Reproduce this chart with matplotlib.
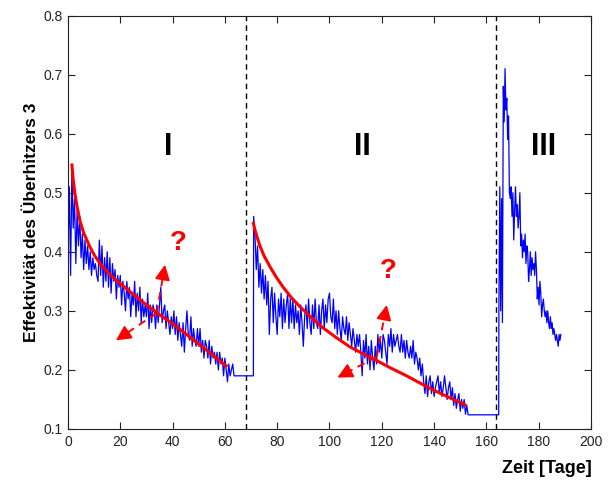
import numpy as np
import matplotlib
matplotlib.use("Agg")
import matplotlib.pyplot as plt

plt.rcParams['font.family'] = ['Liberation Sans', 'DejaVu Sans']

# ---------------- data ----------------
# measured effectiveness, phase I (start day 0, step 0.5 d)
phase1_start, phase1_step = 0.0, 0.5
eff_phase1 = [
    0.40, 0.51, 0.36, 0.54, 0.44, 0.49, 0.38, 0.47, 0.41, 0.46,
    0.39, 0.43, 0.37, 0.42, 0.38, 0.41, 0.37, 0.40, 0.36, 0.39,
    0.37, 0.38, 0.36, 0.35, 0.42, 0.36, 0.41, 0.34, 0.39, 0.35,
    0.40, 0.34, 0.39, 0.33, 0.38, 0.35, 0.37, 0.32, 0.36, 0.34,
    0.36, 0.31, 0.35, 0.33, 0.30, 0.35, 0.32, 0.34, 0.29, 0.33,
    0.31, 0.35, 0.29, 0.33, 0.30, 0.34, 0.28, 0.32, 0.29, 0.31,
    0.29, 0.33, 0.27, 0.31, 0.28, 0.31, 0.30, 0.27, 0.31, 0.28,
    0.31, 0.34, 0.28, 0.30, 0.31, 0.27, 0.30, 0.28, 0.26, 0.29,
    0.27, 0.30, 0.26, 0.29, 0.25, 0.28, 0.26, 0.24, 0.28, 0.23,
    0.27, 0.30, 0.26, 0.25, 0.29, 0.24, 0.27, 0.25, 0.24, 0.27,
    0.24, 0.27, 0.23, 0.25, 0.22, 0.25, 0.24, 0.22, 0.25, 0.21,
    0.24, 0.22, 0.23, 0.21, 0.23, 0.20, 0.23, 0.21, 0.22, 0.19,
    0.22, 0.20, 0.18, 0.21, 0.19, 0.20, 0.21, 0.19,
]
# phase II (start day 71, step 0.5 d)
phase2_start, phase2_step = 71.0, 0.5
eff_phase2 = [
    0.46, 0.43, 0.37, 0.41, 0.34, 0.38, 0.33, 0.37, 0.32, 0.36,
    0.31, 0.35, 0.26, 0.32, 0.34, 0.28, 0.33, 0.29, 0.26, 0.32,
    0.29, 0.33, 0.27, 0.32, 0.28, 0.31, 0.33, 0.27, 0.32, 0.28,
    0.32, 0.27, 0.31, 0.28, 0.30, 0.26, 0.31, 0.28, 0.24, 0.29,
    0.31, 0.27, 0.32, 0.28, 0.26, 0.31, 0.27, 0.32, 0.28, 0.27,
    0.31, 0.26, 0.30, 0.32, 0.27, 0.31, 0.28, 0.32, 0.33, 0.29,
    0.28, 0.32, 0.27, 0.30, 0.26, 0.30, 0.27, 0.25, 0.29, 0.27,
    0.26, 0.29, 0.25, 0.28, 0.26, 0.24, 0.27, 0.25, 0.23, 0.26,
    0.24, 0.26, 0.23, 0.19, 0.25, 0.22, 0.26, 0.21, 0.24, 0.20,
    0.25, 0.22, 0.20, 0.24, 0.21, 0.26, 0.23, 0.25, 0.22, 0.26,
    0.25, 0.23, 0.21, 0.26, 0.24, 0.27, 0.23, 0.26, 0.24, 0.25,
    0.26, 0.24, 0.23, 0.26, 0.23, 0.25, 0.22, 0.25, 0.23, 0.22,
    0.24, 0.22, 0.25, 0.21, 0.23, 0.22, 0.20, 0.22, 0.19, 0.21,
    0.18, 0.16, 0.19, 0.155, 0.18, 0.19, 0.16, 0.18, 0.155, 0.17,
    0.18, 0.19, 0.16, 0.18, 0.155, 0.17, 0.19, 0.17, 0.15, 0.17,
    0.18, 0.15, 0.17, 0.14, 0.16, 0.135, 0.15, 0.16, 0.13, 0.15,
    0.135, 0.15, 0.125, 0.14,
]
# phase III (start day 164.8, step 1/3 d)
phase3_start, phase3_step = 164.8, 1.0 / 3.0
eff_phase3 = [
    0.32, 0.51, 0.30, 0.49, 0.28, 0.68, 0.62, 0.71, 0.64, 0.66,
    0.59, 0.63, 0.50, 0.49, 0.51, 0.46, 0.50, 0.42, 0.47, 0.51,
    0.46, 0.48, 0.44, 0.46, 0.50, 0.41, 0.43, 0.39, 0.42, 0.40,
    0.43, 0.38, 0.41, 0.40, 0.35, 0.37, 0.40, 0.36, 0.39, 0.37,
    0.38, 0.36, 0.40, 0.37, 0.32, 0.34, 0.31, 0.35, 0.33, 0.29,
    0.31, 0.32, 0.30, 0.29, 0.30, 0.28, 0.30, 0.28, 0.27, 0.29,
    0.27, 0.28, 0.26, 0.27, 0.26, 0.25, 0.26, 0.25, 0.24, 0.26,
    0.25, 0.26,
]
# idle periods (constant value between phases)
idle_start = [64.0, 153.0]
idle_end = [70.9, 164.7]
idle_level = [0.19, 0.124]

# fitted degradation curves
fit1_days = [1.5, 2.0, 2.7, 3.5, 4.6, 6.0, 8.3, 10.0, 12.1, 15.0, 18.4, 22.0,
             25.0, 28.0, 31.0, 35.4, 38.5, 41.6, 44.8, 47.9, 51.0, 54.3, 57.3, 60.5]
fit1_vals = [0.547, 0.522, 0.497, 0.476, 0.452, 0.432, 0.409, 0.395, 0.381, 0.366,
             0.352, 0.339, 0.328, 0.317, 0.307, 0.292, 0.283, 0.273, 0.262, 0.251,
             0.240, 0.229, 0.218, 0.207]
fit2_days = [70.9, 71.5, 72.3, 73.4, 75.0, 77.2, 79.5, 82.3, 85.5, 88.7, 93.0,
             97.6, 102.5, 107.8, 113.0, 118.0, 123.5, 129.5, 134.5, 139.7, 145.5, 151.8]
fit2_vals = [0.448, 0.437, 0.425, 0.410, 0.393, 0.375, 0.358, 0.340, 0.322, 0.307,
             0.289, 0.271, 0.255, 0.239, 0.227, 0.216, 0.203, 0.190, 0.178, 0.166,
             0.154, 0.141]

phase_bounds = [68.0, 163.7]
phase_labels = ['I', 'II', 'III']
x_ticks = [0, 20, 40, 60, 80, 100, 120, 140, 160, 180, 200]
y_ticks = [0.1, 0.2, 0.3, 0.4, 0.5, 0.6, 0.7, 0.8]

# ---------------- build series ----------------
t1 = phase1_start + phase1_step * np.arange(len(eff_phase1))
t2 = phase2_start + phase2_step * np.arange(len(eff_phase2))
t3 = phase3_start + phase3_step * np.arange(len(eff_phase3))
days = np.concatenate([t1, [idle_start[0], idle_end[0]], t2,
                       [idle_start[1], idle_end[1]], t3])
eff = np.concatenate([eff_phase1, [idle_level[0], idle_level[0]], eff_phase2,
                      [idle_level[1], idle_level[1]], eff_phase3])

# ---------------- plot ----------------
fig = plt.figure(figsize=(6.13, 4.86), dpi=100)
ax = fig.add_axes([0.1109, 0.1173, 0.8532, 0.8508])

ax.plot(days, eff, color='#0000ff', lw=0.9, zorder=2)
ax.plot(fit1_days, fit1_vals, color='#ff0000', lw=2.2, zorder=3)
ax.plot(fit2_days, fit2_vals, color='#ff0000', lw=2.2, zorder=3)

for b in phase_bounds:
    ax.axvline(b, color='black', lw=1.0, ls=(0, (4, 3)), zorder=1)

label_pos = [(38.2, 0.578), (112.4, 0.578), (182.0, 0.578)]
for lab, (lx, ly) in zip(phase_labels, label_pos):
    ax.text(lx, ly, lab, fontsize=22, fontweight='bold', ha='center', va='center', color='black')

def arrow(origin, tip):
    ox, oy = origin
    tx, ty = tip
    fx = ox + 0.72 * (tx - ox)
    fy = oy + 0.72 * (ty - oy)
    ax.plot([ox, fx], [oy, fy], color='#ff0000', lw=1.4, ls=(0, (4, 3)), zorder=4)
    ax.annotate('', xy=(tx, ty), xytext=(fx, fy),
                arrowprops=dict(arrowstyle='-|>,head_length=0.9,head_width=0.45',
                                color='#ff0000', lw=1.4, shrinkA=0, shrinkB=0),
                zorder=4)

arrow((33.9, 0.296), (37.1, 0.378))
arrow((33.9, 0.296), (18.3, 0.250))
arrow((118.0, 0.222), (121.9, 0.310))
arrow((118.0, 0.222), (103.0, 0.187))

ax.text(42.0, 0.415, '?', fontsize=20, fontweight='bold', color='#ff0000', ha='center', va='center')
ax.text(122.4, 0.367, '?', fontsize=20, fontweight='bold', color='#ff0000', ha='center', va='center')

ax.set_xlim(0, 200)
ax.set_ylim(0.1, 0.8)
ax.set_xticks(x_ticks)
ax.set_yticks(y_ticks)
ax.set_xticklabels([str(v) for v in x_ticks])
ax.set_yticklabels([f'{v:.1f}' for v in y_ticks])
ax.tick_params(direction='in', length=5, width=0.8, top=True, right=True,
               labelsize=10, colors='#222222', pad=4)
for s in ax.spines.values():
    s.set_linewidth(0.8)
    s.set_color('#222222')

ax.set_ylabel('Effektivität des Überhitzers 3', fontsize=12.5, fontweight='bold', labelpad=3)
fig.text(0.966, 0.037, 'Zeit [Tage]', fontsize=13, fontweight='bold', ha='right', va='center')

fig.savefig('out.png', dpi=100)
